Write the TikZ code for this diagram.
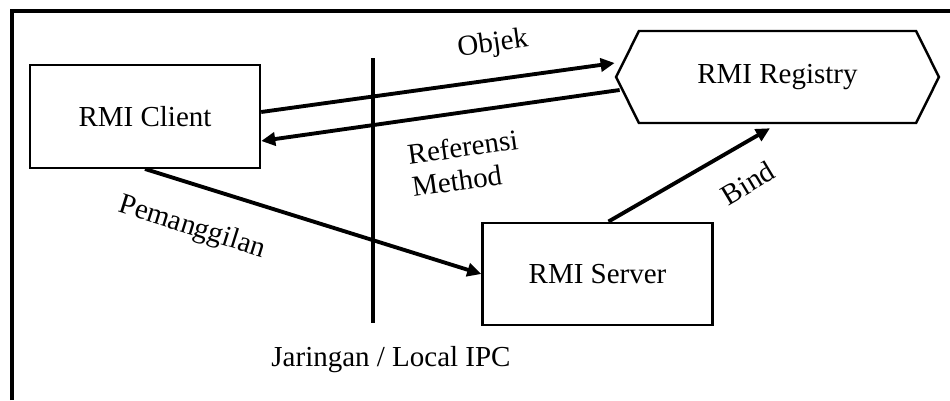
\documentclass[tikz,border=0pt]{standalone}
\usepackage{fontspec}
\setmainfont{Liberation Serif}
\usepackage{tikz}
\usetikzlibrary{arrows.meta}
\usetikzlibrary{shapes.symbols}
\usetikzlibrary{positioning}

\begin{document}
\begin{tikzpicture}[x=0.02cm,y=-0.02cm]
      \fontsize{16.5}{18.5}\selectfont
      \tikzstyle{rmibox}=[draw,line width=1.4pt,minimum width=4.6cm,minimum height=2.05cm]
      \tikzstyle{rmihex}=[draw,line width=1.4pt,signal,signal to=east and west,signal pointer angle=127,minimum width=6.46cm,minimum height=1.84cm,inner sep=0pt]
      \tikzstyle{call}=[line width=2.2pt,-{Triangle[length=8pt,width=7.5pt]}]
      \tikzstyle{lbl}=[inner sep=1pt]

      \useasboundingbox (0,0) rectangle (950,400);
      \draw [line width=2.3pt] (12,400) -- (12,11) -- (950,11);

      \node [rmibox] (client) at (145,116.5) {RMI Client};
      \node [rmibox] (server) at (597.5,274) {RMI Server};
      \node [rmihex] (registry) at (777.5,77) {RMI Registry};

      % garis jaringan
      \coordinate (nettop) at (373,58);
      \coordinate (netbottom) at (373,323);
      \draw [line width=2.3pt] (nettop) -- (netbottom);
      \node [lbl] (netlabel) at (391,360) {Jaringan / Local IPC};

      \draw [call] ([yshift=0.09cm]client.east) -- ([yshift=0.28cm]registry.west);
      \draw [call] ([xshift=0.1cm,yshift=-0.26cm]registry.west) -- ([yshift=-0.49cm]client.east);
      \draw [call] (client.south) -- (server.west);
      \draw [call] ([xshift=0.22cm]server.north) -- ([xshift=-0.15cm,yshift=-0.08cm]registry.south);

      \node [lbl,rotate=8] (objek) at (493,45) {Objek};
      \node [lbl,rotate=8,align=left] (referensi) at (465,163) {Referensi\\Method};
      \node [lbl,rotate=-17.5] (panggil) at (192,228) {Pemanggilan};
      \node [lbl,rotate=31] (bind) at (748,183) {Bind};
\end{tikzpicture}
\end{document}
